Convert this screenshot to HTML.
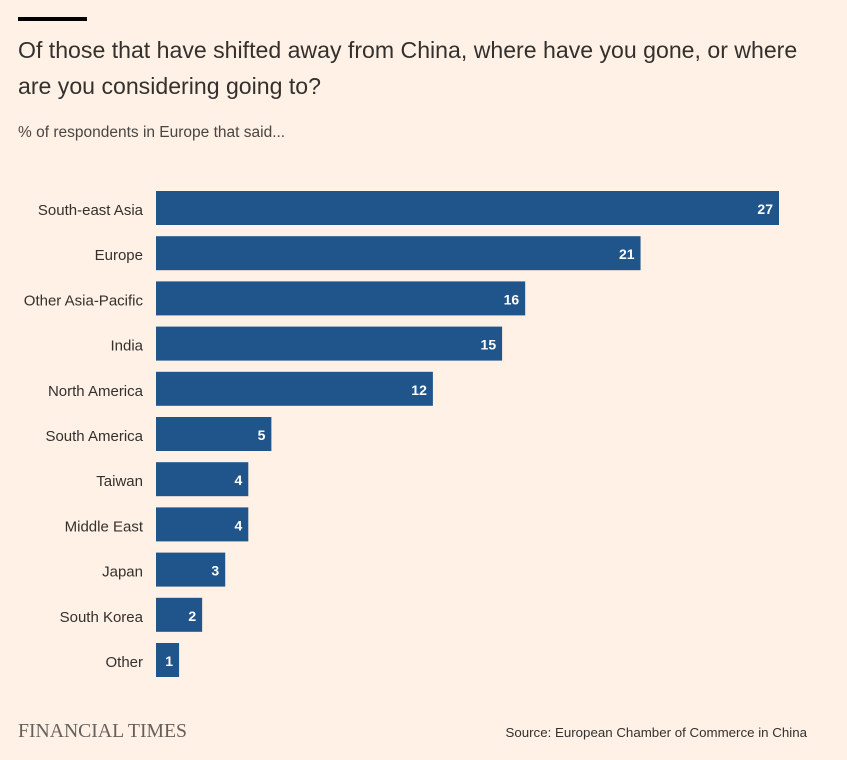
<!DOCTYPE html>
<html><head><meta charset="utf-8"><style>
body{margin:0;background:#fff1e5;}
#c{position:relative;width:847px;height:760px;background:#fff1e5;font-family:"Liberation Sans",sans-serif;color:#33302e;overflow:hidden}
.t{position:absolute;white-space:nowrap}
</style></head><body>
<div id="c">
<div class="t" style="left:18px;top:17px;width:69px;height:4px;background:#000"></div>
<div class="t" style="left:18px;top:32px;font-size:23.1px;line-height:36px;color:#33302e">Of those that have shifted away from China, where have you gone, or where<br>are you considering going to?</div>
<div class="t" style="left:18px;top:124px;font-size:15.5px;color:#4a4542">% of respondents in Europe that said...</div>
<svg id="svg" width="847" height="760" style="position:absolute;left:0;top:0"></svg>
<div class="t" style="left:18px;top:720px;font-family:'Liberation Serif',serif;font-size:19.7px;color:#66605c">FINANCIAL TIMES</div>
<div class="t" style="right:40px;top:725px;font-size:13.3px;color:#33302e">Source: European Chamber of Commerce in China</div>
</div>
<script>
const categories=["South-east Asia","Europe","Other Asia-Pacific","India","North America","South America","Taiwan","Middle East","Japan","South Korea","Other"];
const values=[27,21,16,15,12,5,4,4,3,2,1];
const svg=document.getElementById('svg');
const NS='http://www.w3.org/2000/svg';
const x=v=>156+v*(623/27);
const y=i=>191+i*45.2;
const bh=34;
categories.forEach((c,i)=>{
  const r=document.createElementNS(NS,'rect');
  r.setAttribute('x',x(0));r.setAttribute('y',y(i));
  r.setAttribute('width',x(values[i])-x(0));r.setAttribute('height',bh);
  r.setAttribute('fill','#1f558a');
  
  
  svg.appendChild(r);
  const l=document.createElementNS(NS,'text');
  l.setAttribute('x',143);l.setAttribute('y',y(i)+bh/2+7);
  l.setAttribute('text-anchor','end');l.setAttribute('font-size','15');
  l.setAttribute('fill','#33302e');l.setAttribute('font-family','Liberation Sans, sans-serif');
  l.textContent=c;
  
  
  svg.appendChild(l);
  const v=document.createElementNS(NS,'text');
  v.setAttribute('x',x(values[i])-6);v.setAttribute('y',y(i)+bh/2+6);
  v.setAttribute('text-anchor','end');v.setAttribute('font-size','14');v.setAttribute('font-weight','bold');
  v.setAttribute('fill','#fff');v.setAttribute('font-family','Liberation Sans, sans-serif');
  v.textContent=values[i];
  
  
  svg.appendChild(v);
});
</script>
</body></html>
